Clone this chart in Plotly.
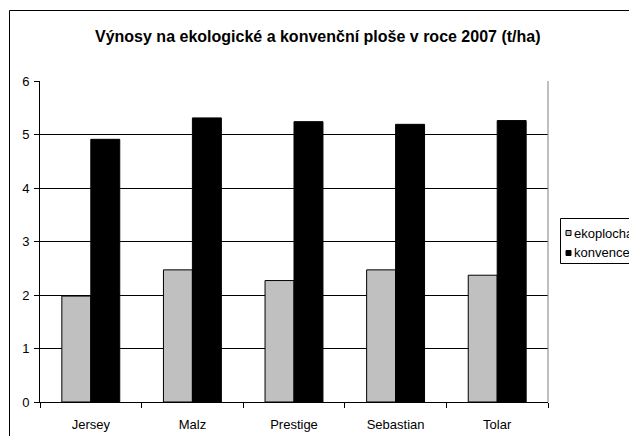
import plotly.graph_objects as go

categories = ["Jersey", "Malz", "Prestige", "Sebastian", "Tolar"]
series_names = ["ekoplocha", "konvence"]
ekoplocha = [1.98, 2.47, 2.27, 2.47, 2.37]
konvence = [4.91, 5.31, 5.24, 5.19, 5.26]
y_ticks = [0, 1, 2, 3, 4, 5, 6]
title_text = "Výnosy na ekologické a konvenční ploše v roce 2007 (t/ha)"

# page body has an 8px default margin; work in page pixels and subtract it
OFF = 8
W, H = 637 - OFF, 436 - OFF
PL, PR, PT, PB = 40, 548, 81, 402  # plot area in page pixels
ml, mt = PL - OFF, PT - OFF
mr, mb = W - (PR - OFF), H - (PB - OFF)
pw, ph = PR - PL, PB - PT

def px(x):
    return (x - PL) / pw

def py(y):
    return 1 - (y - PT) / ph

FONT = "Liberation Sans, Arial, sans-serif"
colors = ["#C0C0C0", "#000000"]

fig = go.Figure()
for name, vals, col in zip(series_names, [ekoplocha, konvence], colors):
    fig.add_trace(go.Bar(
        x=categories, y=vals, name=name,
        marker=dict(color=col, line=dict(color="#000000", width=1)),
        showlegend=False,
    ))

shapes = [
    # outer chart frame
    dict(type="rect", xref="paper", yref="paper", x0=px(9.5), y0=py(470), x1=px(700), y1=py(10.5),
         line=dict(color="#000000", width=1), layer="below"),
    # plot area right border (gray)
    dict(type="line", xref="paper", yref="paper", x0=1, x1=1, y0=0, y1=1,
         line=dict(color="#808080", width=1)),
    # legend box
    dict(type="rect", xref="paper", yref="paper", x0=px(560.5), y0=py(263.5), x1=px(700), y1=py(218.5),
         line=dict(color="#000000", width=1), fillcolor="white"),
]
annotations = [
    dict(text="<b>" + title_text + "</b>", xref="paper", yref="paper", x=px(318), y=py(37),
         xanchor="center", yanchor="middle", showarrow=False,
         font=dict(family=FONT, size=16, color="#000000")),
]
legend_y = [233, 253]
for name, col, ly in zip(series_names, colors, legend_y):
    shapes.append(dict(type="rect", xref="paper", yref="paper",
                       x0=px(566), x1=px(571), y0=py(ly + 2.5), y1=py(ly - 2.5),
                       fillcolor=col, line=dict(color="#000000", width=1)))
    annotations.append(dict(text=name, xref="paper", yref="paper", x=px(572), y=py(ly),
                            xanchor="left", yanchor="middle", showarrow=False,
                            font=dict(family=FONT, size=13, color="#000000")))

fig.update_layout(
    width=W, height=H,
    margin=dict(l=ml, r=mr, t=mt, b=mb, pad=0, autoexpand=False),
    paper_bgcolor="white", plot_bgcolor="white",
    barmode="group", bargap=0.43, bargroupgap=0,
    font=dict(family=FONT, size=13, color="#000000"),
    shapes=shapes, annotations=annotations,
    xaxis=dict(showline=True, linecolor="#000000", linewidth=1, automargin=False,
               ticks="outside", ticklen=5, tickcolor="#000000", tickson="boundaries",
               ticklabelstandoff=10,
               showgrid=False, tickfont=dict(family=FONT, size=13), fixedrange=True),
    yaxis=dict(range=[0, 6], tickvals=y_ticks, showline=True, linecolor="#000000", linewidth=1,
               automargin=False,
               ticks="outside", ticklen=5, tickcolor="#000000", ticklabelstandoff=2,
               showgrid=True, gridcolor="#000000", gridwidth=1, zeroline=False,
               tickfont=dict(family=FONT, size=13), fixedrange=True),
)

fig.write_html("out.html")
